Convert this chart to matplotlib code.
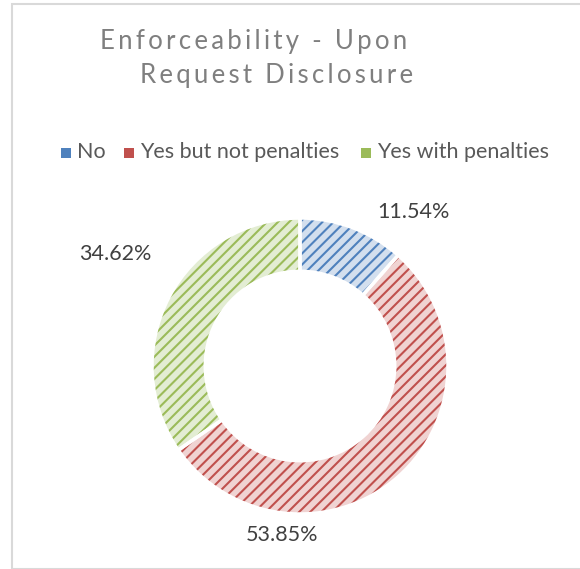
import matplotlib.pyplot as plt
from matplotlib.patches import Rectangle

# data
categories = ['No', 'Yes but not penalties', 'Yes with penalties']
values = [11.54, 53.85, 34.62]
colors = ['#4F81BD', '#C0504D', '#9BBB59']
tints = ['#d3dfee', '#f0d3d2', '#e3edd3']
# label positions (pie data coords)
label_pos = [(0.77, 1.04), (-0.12, -1.14), (-1.25, 0.76)]

plt.rcParams['font.family'] = ['Lato', 'DejaVu Sans']
plt.rcParams['hatch.linewidth'] = 1.5

W, H = 580, 569
fig = plt.figure(figsize=(W / 100, H / 100), dpi=100)

# chart frame
fig.patches.append(Rectangle((12 / W, 0), 1, 1 - 4 / H, transform=fig.transFigure,
                             fill=False, edgecolor='#d9d9d9', linewidth=1.5))

cx, cy, r = 300, 366, 148
ax = fig.add_axes([(cx - r) / W, 1 - (cy + r) / H, 2 * r / W, 2 * r / H])

wedges, _ = ax.pie(values, colors=tints, startangle=90, counterclock=False,
                   wedgeprops=dict(width=0.36, linewidth=0))
for w, c in zip(wedges, colors):
    w.set_hatch('///')
    w.set_edgecolor(c)
    w.set_linewidth(0)
# white gaps between slices
ax.pie(values, colors=['none'] * 3, startangle=90, counterclock=False,
       wedgeprops=dict(width=0.36, linewidth=2.5, edgecolor='white'))
ax.set_xlim(-1, 1)
ax.set_ylim(-1, 1)
ax.axis('off')

for v, (x, y) in zip(values, label_pos):
    ax.text(x, y, f'{v:.2f}%', ha='center', va='center', fontsize=15.5,
            color='#404040', clip_on=False)

# title with spaced letters (first line has a trailing space in the original)
title = ['Enforceability - Upon', 'Request Disclosure']
title_cx = [254, 277]
for i, (line, x) in enumerate(zip(title, title_cx)):
    spaced = '\u2009'.join(line)
    fig.text(x / W, 1 - (42 + i * 33) / H, spaced,
             ha='center', va='center', fontsize=18.5, color='#7f7f7f')

# legend
leg_x = [61, 124, 361]
for x, lab, c in zip(leg_x, categories, colors):
    fig.patches.append(Rectangle((x / W, 1 - 158 / H), 10 / W, 10 / H,
                                 transform=fig.transFigure, facecolor=c, edgecolor='none'))
    fig.text((x + 16) / W, 1 - 152 / H, lab, ha='left', va='center',
             fontsize=15.5, color='#595959')

fig.savefig('out.png', dpi=100, facecolor='white')
